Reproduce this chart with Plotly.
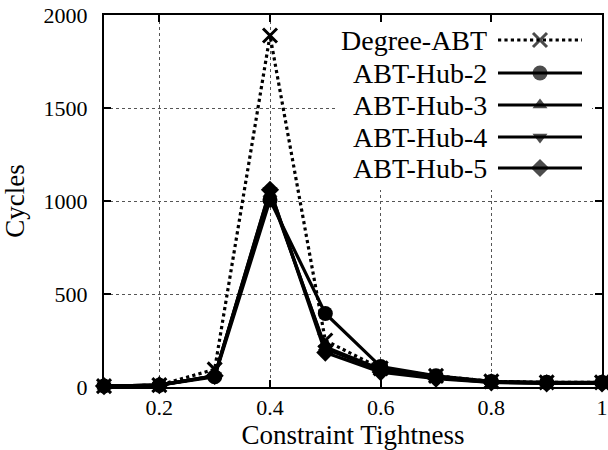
import plotly.graph_objects as go

x = [0.1, 0.2, 0.3, 0.4, 0.5, 0.6, 0.7, 0.8, 0.9, 1.0]
degree_abt = [5, 10, 95, 1890, 250, 100, 60, 30, 25, 25]
hub2 = [5, 10, 55, 1005, 395, 110, 60, 30, 25, 25]
hub3 = [5, 10, 60, 1040, 215, 95, 55, 28, 22, 22]
hub4 = [5, 10, 60, 1055, 205, 90, 50, 25, 20, 20]
hub5 = [5, 10, 60, 1060, 185, 80, 45, 25, 20, 20]

names = ["Degree-ABT", "ABT-Hub-2", "ABT-Hub-3", "ABT-Hub-4", "ABT-Hub-5"]
series = [degree_abt, hub2, hub3, hub4, hub5]
symbols = ["x-thin", "circle", "triangle-up", "triangle-down", "diamond"]
sizes = [14, 15, 13, 13, 14]
dashes = ["dot", "solid", "solid", "solid", "solid"]

x_tickvals = [0.2, 0.4, 0.6, 0.8, 1.0]
x_ticktext = ["0.2", "0.4", "0.6", "0.8", "1"]
y_tickvals = [0, 500, 1000, 1500, 2000]

FONT = "Liberation Serif"

# plot-area pixel box
L, R, T, B = 104, 602, 15, 387
X0, X1, Y0, Y1 = 0.1, 1.0, 0, 2000


def px2x(px):
    return X0 + (px - L) / (R - L) * (X1 - X0)


def py2y(py):
    return Y0 + (B - py) / (B - T) * (Y1 - Y0)


fig = go.Figure()
for nm, ys, sym, sz, ds in zip(names, series, symbols, sizes, dashes):
    fig.add_trace(go.Scatter(
        x=x, y=ys, name=nm, mode="lines+markers",
        line=dict(color="black", width=3.2, dash=ds),
        marker=dict(symbol=sym, size=sz, color="black",
                    line=dict(color="black", width=3 if sym == "x-thin" else 0)),
        cliponaxis=False, showlegend=False,
    ))

# custom gnuplot-style legend (text left, sample right)
leg_y = [40, 73, 105, 137, 168]
for nm, sym, sz, ds, yy in zip(names, symbols, sizes, dashes, leg_y):
    fig.add_trace(go.Scatter(
        x=[px2x(498), px2x(540), px2x(582)], y=[py2y(yy)] * 3, mode="lines+markers",
        line=dict(color="black", width=3.2, dash=ds),
        marker=dict(symbol=sym, size=[0, sz, 0], color="black",
                    line=dict(color="black", width=3 if sym == "x-thin" else 0)),
        cliponaxis=False, showlegend=False, hoverinfo="skip",
    ))
    fig.add_annotation(x=px2x(489), y=py2y(yy), xref="x", yref="y", text=nm,
                       showarrow=False, xanchor="right", yanchor="middle",
                       font=dict(family=FONT, size=28, color="black"))

fig.add_shape(type="rect", xref="x", yref="y",
              x0=px2x(335), x1=px2x(592), y0=py2y(190), y1=py2y(22),
              fillcolor="white", line=dict(width=0), layer="between")

axis_common = dict(
    showline=True, linecolor="black", linewidth=2, mirror="allticks",
    ticks="inside", ticklen=7, tickwidth=1.5, tickcolor="black",
    showgrid=True, gridcolor="#555", griddash="dot", gridwidth=1,
    zeroline=False, automargin=False,
    tickfont=dict(family=FONT, size=22, color="black"),
)

fig.update_layout(
    width=608, height=450,
    margin=dict(l=L, r=608 - R, t=T, b=450 - B, autoexpand=False),
    plot_bgcolor="white", paper_bgcolor="white",
    font=dict(family=FONT, color="black"),
    xaxis=dict(range=[X0, X1], tickvals=x_tickvals, ticktext=x_ticktext,
               title=dict(text="Constraint Tightness", font=dict(family=FONT, size=27), standoff=2),
               ticklabelstandoff=0, **axis_common),
    yaxis=dict(range=[Y0, Y1], tickvals=y_tickvals,
               title=dict(text="Cycles", font=dict(family=FONT, size=27), standoff=14),
               ticklabelstandoff=10, **axis_common),
)

fig.write_html("out.html", post_script="document.body.style.margin='0';",
               config={"displayModeBar": False})
